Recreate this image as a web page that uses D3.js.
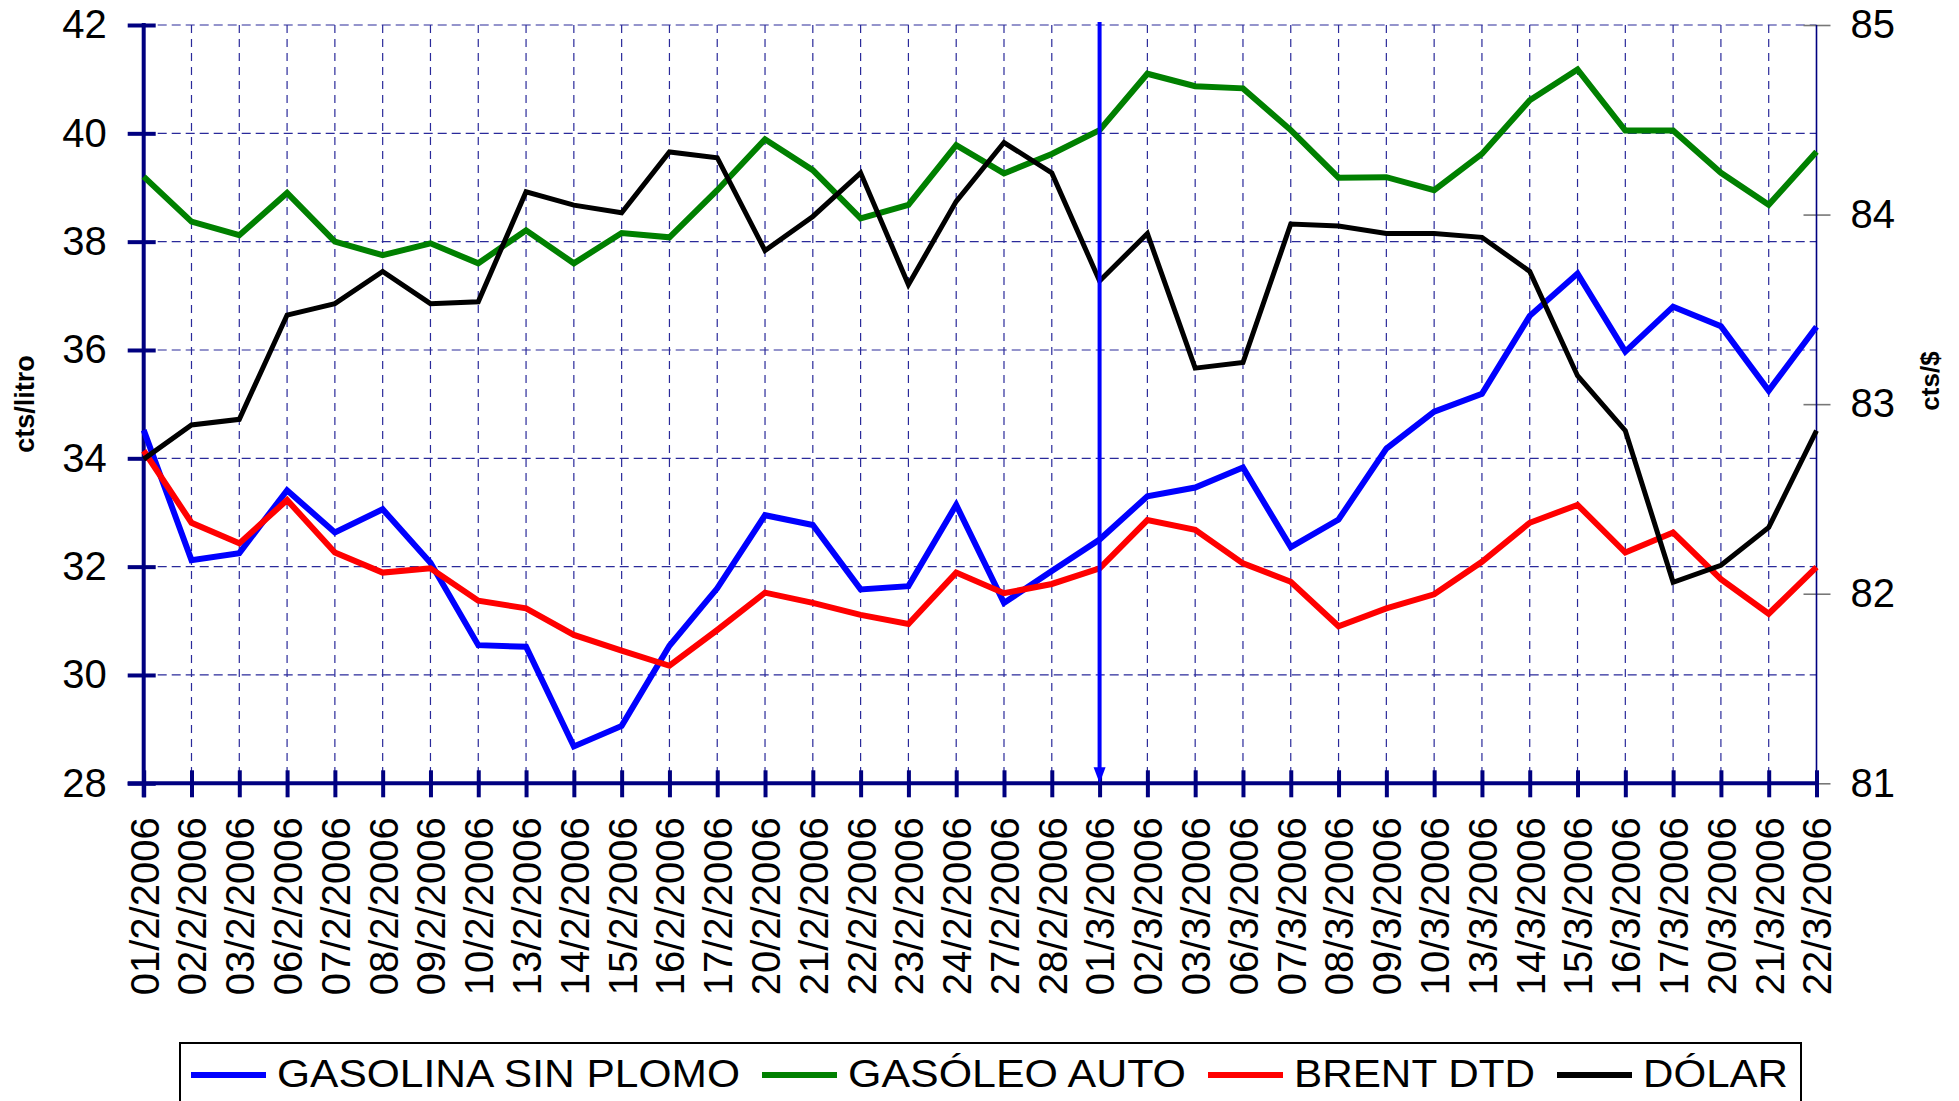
<!DOCTYPE html>
<html>
<head>
<meta charset="utf-8">
<script src="https://cdn.jsdelivr.net/npm/d3@7"></script>
<style>
	body { margin: 0; background: #fff; }
	text { font-family: "Liberation Sans", Arial, sans-serif; }
</style>
</head>
<body>
<div id="chartDiv"></div>
<script>
// data
const fechas = ["01/2/2006","02/2/2006","03/2/2006","06/2/2006","07/2/2006","08/2/2006","09/2/2006","10/2/2006",
	"13/2/2006","14/2/2006","15/2/2006","16/2/2006","17/2/2006","20/2/2006","21/2/2006","22/2/2006","23/2/2006",
	"24/2/2006","27/2/2006","28/2/2006","01/3/2006","02/3/2006","03/3/2006","06/3/2006","07/3/2006","08/3/2006",
	"09/3/2006","10/3/2006","13/3/2006","14/3/2006","15/3/2006","16/3/2006","17/3/2006","20/3/2006","21/3/2006","22/3/2006"];

const gasolina = [34.52, 32.12, 32.25, 33.41, 32.63, 33.06, 32.07, 30.55, 30.52, 28.68, 29.06, 30.54, 31.60, 32.95,
	32.77, 31.58, 31.64, 33.14, 31.33, 31.92, 32.50, 33.30, 33.46, 33.83, 32.36, 32.87, 34.18, 34.86, 35.19, 36.63,
	37.41, 35.97, 36.80, 36.44, 35.25, 36.43];
const gasoleo = [39.20, 38.37, 38.12, 38.90, 38.00, 37.75, 37.97, 37.60, 38.21, 37.60, 38.16, 38.08, 38.95, 39.89,
	39.32, 38.43, 38.68, 39.78, 39.26, 39.62, 40.06, 41.10, 40.87, 40.83, 40.06, 39.18, 39.19, 38.95, 39.62, 40.61,
	41.18, 40.05, 40.05, 39.27, 38.68, 39.66];
const brent = [34.14, 32.81, 32.43, 33.23, 32.26, 31.89, 31.97, 31.37, 31.23, 30.74, 30.45, 30.17, 30.83, 31.52,
	31.33, 31.11, 30.94, 31.89, 31.51, 31.68, 31.97, 32.86, 32.68, 32.06, 31.72, 30.90, 31.23, 31.49, 32.09, 32.81,
	33.14, 32.26, 32.63, 31.77, 31.13, 31.99];
const dolar = [82.71, 82.89, 82.92, 83.47, 83.53, 83.70, 83.53, 83.54, 84.12, 84.05, 84.01, 84.33, 84.30, 83.81,
	83.99, 84.22, 83.63, 84.07, 84.38, 84.22, 83.65, 83.90, 83.19, 83.22, 83.95, 83.94, 83.90, 83.90, 83.88, 83.70,
	83.15, 82.86, 82.06, 82.15, 82.35, 82.86];

const ticksIzq = [28, 30, 32, 34, 36, 38, 40, 42];
const ticksDer = [81, 82, 83, 84, 85];
const marcaFecha = "01/3/2006";

const nombres = ["GASOLINA SIN PLOMO", "GASÓLEO AUTO", "BRENT DTD", "DÓLAR"];

var displayChart = function(){
	var canvasW = 1959;
	var canvasH = 1101;
	const svg = d3.select('#chartDiv')
		.append('svg')
		.attr('width', canvasW)
		.attr('height', canvasH);

	const left = 143.7, right = 1816.5, top = 25, bottom = 783.3;
	const navy = '#000080';

	//scales
	const x = d3.scalePoint().domain(fechas).range([left, right]);
	const yL = d3.scaleLinear().domain([28, 42]).range([bottom, top]);
	const yR = d3.scaleLinear().domain([81, 85]).range([bottom, top]);

	// grid
	const grid = svg.append('g');
	grid.selectAll('line.h')
		.data(ticksIzq.filter(d => d > 28))
		.enter().append('line')
		.attr('x1', left).attr('x2', right)
		.attr('y1', d => yL(d)).attr('y2', d => yL(d))
		.attr('stroke', '#2a2a9a').attr('stroke-width', 1.2)
		.attr('stroke-dasharray', '9,5');
	grid.selectAll('line.v')
		.data(fechas.slice(1, -1))
		.enter().append('line')
		.attr('x1', d => x(d)).attr('x2', d => x(d))
		.attr('y1', top).attr('y2', bottom)
		.attr('stroke', '#2a2a9a').attr('stroke-width', 1.2)
		.attr('stroke-dasharray', '8,6');

	// right axis
	const yAxisR = d3.axisRight(yR).tickValues(ticksDer).tickFormat(d3.format('d')).tickSize(0).tickPadding(34);
	const gR = svg.append('g').attr('transform', `translate(${right},0)`).call(yAxisR);
	gR.select('.domain').remove();
	gR.append('line').attr('x1', 0).attr('x2', 0).attr('y1', top).attr('y2', bottom)
		.attr('stroke', navy).attr('stroke-width', 1.6);
	gR.selectAll('.tick').append('line')
		.attr('x1', -13).attr('x2', 14)
		.attr('stroke', '#777').attr('stroke-width', 1.6);
	gR.selectAll('text').attr('font-size', 40).attr('fill', '#000')
		.style('font-family', '"Liberation Sans", Arial, sans-serif');

	// left axis
	const yAxisL = d3.axisLeft(yL).tickValues(ticksIzq).tickSize(0).tickPadding(37);
	const gL = svg.append('g').attr('transform', `translate(${left},0)`).call(yAxisL);
	gL.select('.domain').remove();
	gL.append('line').attr('x1', 0).attr('x2', 0).attr('y1', top - 2).attr('y2', bottom + 14)
		.attr('stroke', navy).attr('stroke-width', 4);
	gL.selectAll('.tick').append('line')
		.attr('x1', -16).attr('x2', 12)
		.attr('stroke', navy).attr('stroke-width', 4);
	gL.selectAll('text').attr('font-size', 40).attr('fill', '#000')
		.style('font-family', '"Liberation Sans", Arial, sans-serif');

	// bottom axis
	const xAxis = d3.axisBottom(x).tickSize(0).tickPadding(34);
	const gX = svg.append('g').attr('transform', `translate(0,${bottom})`).call(xAxis);
	gX.select('.domain').remove();
	gX.append('line').attr('x1', left - 16).attr('x2', right).attr('y1', 0).attr('y2', 0)
		.attr('stroke', navy).attr('stroke-width', 4);
	gX.selectAll('.tick').append('line')
		.attr('y1', -13).attr('y2', 14)
		.attr('stroke', navy).attr('stroke-width', 4);
	gX.selectAll('text')
		.attr('font-size', 40).attr('fill', '#000')
		.style('font-family', '"Liberation Sans", Arial, sans-serif')
		.attr('text-anchor', 'end')
		.attr('transform', 'rotate(-90)')
		.attr('x', -34).attr('y', 0).attr('dy', '0.36em');

	// axis titles
	svg.append('text').text('cts/litro')
		.attr('transform', 'translate(34,404) rotate(-90)')
		.attr('text-anchor', 'middle')
		.attr('font-size', 27).attr('font-weight', 'bold');
	svg.append('text').text('cts/$')
		.attr('transform', 'translate(1939,381) rotate(-90)')
		.attr('text-anchor', 'middle')
		.attr('font-size', 26).attr('font-weight', 'bold');

	// series
	const series = [
		{name: nombres[0], values: gasolina, color: '#0000ff', y: yL, w: 6},
		{name: nombres[1], values: gasoleo, color: '#008000', y: yL, w: 6},
		{name: nombres[2], values: brent, color: '#ff0000', y: yL, w: 6},
		{name: nombres[3], values: dolar, color: '#000000', y: yR, w: 5}
	];

	series.forEach(function(s){
		const line = d3.line()
			.x((d, i) => x(fechas[i]))
			.y(d => s.y(d));
		svg.append('path')
			.datum(s.values)
			.attr('d', line)
			.attr('fill', 'none')
			.attr('stroke', s.color)
			.attr('stroke-width', s.w)
			.attr('stroke-linejoin', 'miter');
	});

	// marker arrow on 01/3
	const mx = x(marcaFecha);
	svg.append('line')
		.attr('x1', mx).attr('x2', mx)
		.attr('y1', top - 3).attr('y2', bottom - 14)
		.attr('stroke', '#0000ff').attr('stroke-width', 4);
	svg.append('path')
		.attr('d', `M${mx - 6},${bottom - 16} L${mx + 6},${bottom - 16} L${mx},${bottom} Z`)
		.attr('fill', '#0000ff');

	// legend
	const lg = svg.append('g');
	lg.append('rect')
		.attr('x', 180).attr('y', 1043)
		.attr('width', 1621).attr('height', 90)
		.attr('fill', 'none').attr('stroke', '#000').attr('stroke-width', 2);
	const textW = [463, 338, 241, 145];
	var cx = 191;
	series.forEach(function(s, i){
		lg.append('line')
			.attr('x1', cx).attr('x2', cx + 75)
			.attr('y1', 1075).attr('y2', 1075)
			.attr('stroke', s.color).attr('stroke-width', 6);
		lg.append('text').text(s.name)
			.attr('x', cx + 86).attr('y', 1087)
			.attr('font-size', 38)
			.attr('textLength', textW[i])
			.attr('lengthAdjust', 'spacingAndGlyphs');
		cx += 86 + textW[i] + 22;
	});
};

displayChart();
</script>
</body>
</html>
